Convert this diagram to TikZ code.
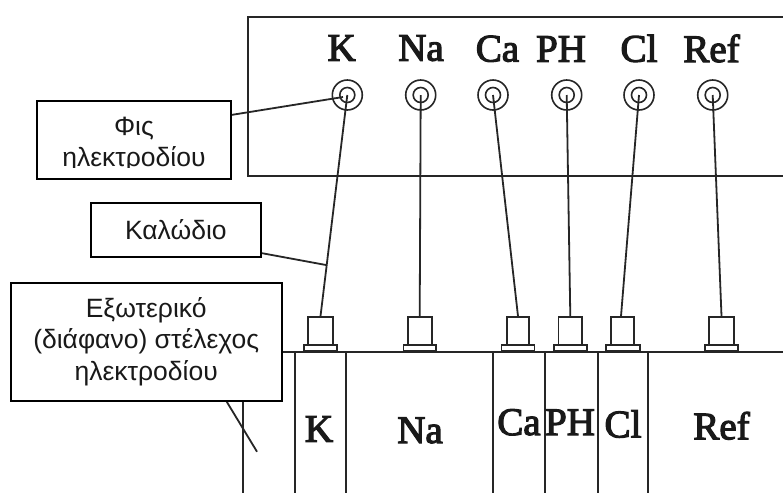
\documentclass[tikz,border=0pt]{standalone}
\usepackage{fontspec}
\setmainfont{Liberation Serif}
\newfontfamily\greeksans{Liberation Sans}
\newfontfamily\ionfont[FakeBold=3]{Liberation Serif}
\tikzset{
  ln/.style={line width=1.8pt,draw=black!85},
  jack/.style={circle,draw=black!85,line width=1.6pt,inner sep=0pt,minimum size=#1},
  plugbody/.style={rectangle,ln,inner sep=0pt,minimum height=28pt,minimum width=#1,anchor=south},
  plugbase/.style={rectangle,ln,inner sep=0pt,minimum height=6pt,minimum width=#1,anchor=south},
  ion/.style={font=\ionfont\fontsize{39}{39}\selectfont,text=black!90,anchor=base,inner sep=0pt},
  callout/.style={rectangle,draw=black,line width=2pt,fill=white,inner sep=0pt},
  calltext/.style={font=\greeksans\fontsize{26.5}{31.5}\selectfont,align=center,inner sep=0pt,text=black!90},
  leader/.style={line width=1.8pt,draw=black!85}
}
\begin{document}
\begin{tikzpicture}[x=1pt,y=-1pt]
\useasboundingbox (0,0) rectangle (783,493);
\fill[white] (0,0) rectangle (783,493);
% panel
\draw[ln] (783,17) -- (248,17) -- (248,176) -- (783,176);
% panel labels
\node[ion] at (341.7,60.7) {K};
\node[ion] at (421,60.7) {Na};
\node[ion] at (497.5,61.5) {Ca};
\node[ion] at (561,61.7) {PH};
\node[ion] at (639,61.7) {Cl};
\node[ion] at (711.5,62) {Ref};
% jacks
\foreach \n/\x in {k/347.3,na/420.7,ca/493,ph/566.7,cl/639,ref/712.7}{
  \node[jack=30pt] (o\n) at (\x,95) {};
  \node[jack=15pt] (c\n) at (\x,95) {};
}
% base line and columns
\coordinate (bl) at (243,352);
\coordinate (br) at (783,352);
\draw[ln] (bl) -- (br);
\foreach \x in {243,295,346,493,545,598,648}{
  \draw[ln] (\x,352) -- (\x,493);
}
% plugs
\foreach \n/\x/\w/\bw in {k/320.5/25/33,na/419.7/24/32.5,ca/518/22.5/33,ph/570.3/23.5/33,cl/622.8/23/34,ref/721.5/25/33}{
  \node[plugbase=\bw pt] (b\n) at (\x,352) {};
  \node[plugbody=\w pt] (p\n) at (\x,346) {};
}
% wires
\foreach \n in {k,na,ca,ph,ref}{
  \draw[ln] (c\n.center) -- (p\n.north);
}
\draw[ln] (ccl.center) -- ([xshift=-1.8pt]pcl.north);
% column labels
\node[ion] at (319,441.7) {K};
\node[ion] at (420,443) {Na};
\node[ion] at (519,435) {Ca};
\node[ion] at (570,435) {PH};
\node[ion] at (623,437.3) {Cl};
\node[ion] at (721.5,439.3) {Ref};
% leaders
\coordinate (phisout) at (231,115);
\coordinate (phisend) at (343,97);
\coordinate (kalout) at (261,253);
\coordinate (kalend) at (326,265);
\coordinate (stemout) at (226,400.5);
\coordinate (stemend) at (257,451.7);
\draw[leader] (phisout) -- (phisend);
\draw[leader] (kalout) -- (kalend);
\draw[leader] (stemout) -- (stemend);
% callouts
\node[callout,minimum width=194.3pt,minimum height=78pt] (phis) at (133.85,140) {};
\begin{scope}
\clip (40,104) rectangle (228,167.5);
\node[calltext] (phistext) at (134,144.5) {Φις\\ηλεκτροδίου};
\end{scope}
\node[callout,minimum width=170.3pt,minimum height=54pt,calltext,draw=black,fill=white] (kal) at (175.85,229.7) {Καλώδιο};
\node[callout,minimum width=271pt,minimum height=118pt,calltext,draw=black,fill=white] (stem) at (146.2,341.7) {Εξωτερικό\\(διάφανο) στέλεχος\\ηλεκτροδίου};
\end{tikzpicture}
\end{document}
